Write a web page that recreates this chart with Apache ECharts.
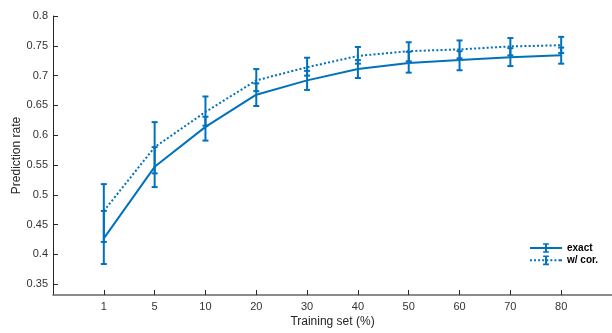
<!DOCTYPE html>
<html>
<head>
<meta charset="utf-8">
<script src="https://cdn.jsdelivr.net/npm/echarts@6/dist/echarts.min.js"></script>
<style>html,body{margin:0;padding:0;background:#fff}#c{width:612px;height:333px}</style>
</head>
<body>
<div id="c"></div>
<script>
// Data
const xLabels = ['1','5','10','20','30','40','50','60','70','80'];
const exactMean = [0.427,0.547,0.614,0.668,0.692,0.711,0.721,0.726,0.731,0.734];
const exactLow  = [0.384,0.513,0.591,0.649,0.676,0.696,0.705,0.709,0.716,0.720];
const exactHigh = [0.473,0.580,0.631,0.687,0.708,0.726,0.740,0.741,0.746,0.747];
const corMean   = [0.473,0.580,0.639,0.692,0.714,0.733,0.741,0.744,0.749,0.751];
const corLow    = [0.421,0.536,0.616,0.674,0.700,0.720,0.724,0.729,0.734,0.738];
const corHigh   = [0.518,0.622,0.665,0.711,0.730,0.748,0.756,0.759,0.763,0.765];
const yTicks = [0.35,0.4,0.45,0.5,0.55,0.6,0.65,0.7,0.75,0.8];

const C = '#0072BD';
const pos = xLabels.map((_, i) => i + 1);

function errRender(params, api) {
  const x = api.value(0), lo = api.value(1), hi = api.value(2);
  const a = api.coord([x, lo]), b = api.coord([x, hi]);
  const hw = 3;
  const st = { stroke: C, lineWidth: 2 };
  return { type: 'group', children: [
    { type: 'line', shape: { x1: a[0], y1: a[1], x2: b[0], y2: b[1] }, style: st },
    { type: 'line', shape: { x1: a[0]-hw, y1: a[1], x2: a[0]+hw, y2: a[1] }, style: st },
    { type: 'line', shape: { x1: b[0]-hw, y1: b[1], x2: b[0]+hw, y2: b[1] }, style: st }
  ]};
}

// legend icons (33 x 10 box)
const barPart = 'M15.5 0H17.5V10H15.5Z M13.5 0H19.5V1.6H13.5Z M13.5 8.4H19.5V10H13.5Z';
const iconExact = 'path://M0 4H33V6H0Z ' + barPart;
let dots = '';
for (let x = 0; x + 2 <= 33.01; x += 4.2) dots += 'M' + x.toFixed(2) + ' 4h2v2h-2Z ';
dots += 'M31 4h2v2h-2Z ';
const iconCor = 'path://' + dots + barPart;

const chart = echarts.init(document.getElementById('c'));
chart.setOption({
  animation: false,
  grid: { left: 53, right: 0, top: 16, bottom: 38, outerBoundsMode: 'none', containLabel: false },
  legend: {
    left: 530, top: 243, orient: 'vertical', padding: 0,
    itemWidth: 32, itemHeight: 10, itemGap: 2.3,
    textStyle: { fontFamily: 'Liberation Sans, Arial, sans-serif', fontSize: 10, fontWeight: 'bold', color: '#000' },
    data: [{ name: 'exact', icon: iconExact }, { name: 'w/ cor.', icon: iconCor }]
  },
  xAxis: {
    type: 'value', min: 0, max: 11,
    name: 'Training set (%)', nameLocation: 'middle', nameGap: 21, nameMoveOverlap: false,
    nameTextStyle: { fontFamily: 'Liberation Sans, Arial, sans-serif', fontSize: 12, color: '#262626' },
    axisLine: { show: true, onZero: false, lineStyle: { color: '#666', width: 1.5 } },
    axisTick: { show: true, inside: true, length: 5, customValues: pos, lineStyle: { color: '#262626' } },
    axisLabel: { customValues: pos, margin: 6, fontFamily: 'Liberation Sans, Arial, sans-serif', fontSize: 11, color: '#333',
      formatter: v => xLabels[Math.round(v) - 1] },
    splitLine: { show: false }
  },
  yAxis: {
    type: 'value', min: 0.332, max: 0.8,
    name: 'Prediction rate', nameLocation: 'middle', nameGap: 30, nameMoveOverlap: false,
    nameTextStyle: { fontFamily: 'Liberation Sans, Arial, sans-serif', fontSize: 12, color: '#262626' },
    axisLine: { show: true, onZero: false, lineStyle: { color: '#262626', width: 1 } },
    axisTick: { show: true, inside: true, length: 5, customValues: yTicks, lineStyle: { color: '#262626' } },
    axisLabel: { customValues: yTicks, margin: 5, fontFamily: 'Liberation Sans, Arial, sans-serif', fontSize: 11, color: '#333',
      formatter: v => String(+v.toFixed(2)) },
    splitLine: { show: false }
  },
  series: [
    { name: 'exact', type: 'line', data: exactMean.map((v, i) => [pos[i], v]), showSymbol: false,
      lineStyle: { color: C, width: 2 }, itemStyle: { color: C }, z: 3 },
    { name: 'w/ cor.', type: 'line', data: corMean.map((v, i) => [pos[i], v]), showSymbol: false,
      lineStyle: { color: C, width: 2, type: [2, 2.2] }, itemStyle: { color: C }, z: 3 },
    { name: 'exact', type: 'custom', renderItem: errRender, encode: { x: 0, y: [1, 2] },
      data: exactLow.map((v, i) => [pos[i], v, exactHigh[i]]), z: 4 },
    { name: 'w/ cor.', type: 'custom', renderItem: errRender, encode: { x: 0, y: [1, 2] },
      data: corLow.map((v, i) => [pos[i], v, corHigh[i]]), z: 4 }
  ]
});
</script>
</body>
</html>
